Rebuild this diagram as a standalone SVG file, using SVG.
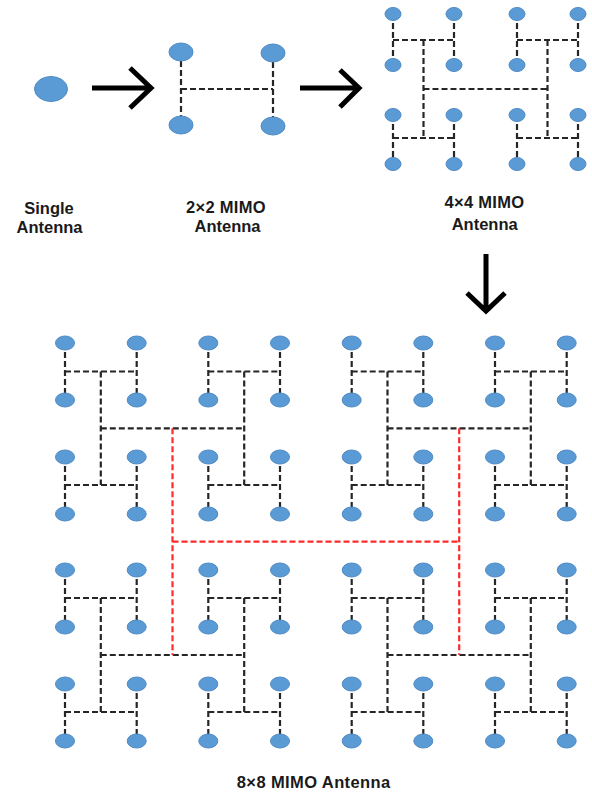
<svg xmlns="http://www.w3.org/2000/svg" width="592" height="794" viewBox="0 0 592 794">
  <style>
    .ant { fill: #5b9bd5; stroke: #4f8ac4; stroke-width: 1; }
    .feed { fill: none; stroke: #262626; stroke-width: 2.2; stroke-dasharray: 6 3; }
    .feed-red { fill: none; stroke: #ff2a2a; stroke-width: 2.2; stroke-dasharray: 6 3; }
    .step { fill: none; stroke: #000; stroke-width: 5; stroke-linejoin: miter; stroke-linecap: butt; }
    .lbl { font-family: "Liberation Sans", Arial, sans-serif; font-weight: bold; font-size: 16.5px; fill: #1a1a1a; text-anchor: middle; }
  </style>
  <rect width="592" height="794" fill="#fff"/>

  <!-- feed networks and step arrows -->
  <g id="connectors">
    <!-- progression arrows -->
    <path class="step" d="M92 88 H150 M130 68 L151 88 L130 108"/>
    <path class="step" d="M300 88 H358 M340 70 L359 88 L340 107"/>
    <path class="step" d="M486 254 V310 M467 293 L486 311 L505 293"/>

    <!-- 2x2 feed -->
    <path class="feed" d="M181 52 V125 M273 53 V126 M181 89 H273"/>

    <!-- 4x4 feed -->
    <path class="feed" d="M393 14 V65 M454 14 V65 M393 40 H454
                          M517 14 V65 M578 14 V65 M517 40 H578
                          M393 115 V164 M454 115 V164 M393 138 H454
                          M517 115 V164 M578 115 V164 M517 138 H578
                          M423.5 40 V138 M547.5 40 V138 M423.5 89 H547.5"/>

    <!-- 8x8 feed: first level H sections -->
    <path class="feed" d="
      M65 343 V400 M136.7 343 V400 M65 371.5 H136.7
      M208.3 343 V400 M280 343 V400 M208.3 371.5 H280
      M351.7 343 V400 M423.3 343 V400 M351.7 371.5 H423.3
      M495 343 V400 M566.7 343 V400 M495 371.5 H566.7
      M65 457 V514 M136.7 457 V514 M65 485 H136.7
      M208.3 457 V514 M280 457 V514 M208.3 485 H280
      M351.7 457 V514 M423.3 457 V514 M351.7 485 H423.3
      M495 457 V514 M566.7 457 V514 M495 485 H566.7
      M65 570 V627 M136.7 570 V627 M65 598 H136.7
      M208.3 570 V627 M280 570 V627 M208.3 598 H280
      M351.7 570 V627 M423.3 570 V627 M351.7 598 H423.3
      M495 570 V627 M566.7 570 V627 M495 598 H566.7
      M65 684 V741 M136.7 684 V741 M65 712 H136.7
      M208.3 684 V741 M280 684 V741 M208.3 712 H280
      M351.7 684 V741 M423.3 684 V741 M351.7 712 H423.3
      M495 684 V741 M566.7 684 V741 M495 712 H566.7"/>
    <!-- 8x8 feed: second level -->
    <path class="feed" d="
      M100.8 371.5 V485 M244.2 371.5 V485 M100.8 428.3 H244.2
      M387.5 371.5 V485 M530.8 371.5 V485 M387.5 428.3 H530.8
      M100.8 598 V712 M244.2 598 V712 M100.8 655 H244.2
      M387.5 598 V712 M530.8 598 V712 M387.5 655 H530.8"/>
    <!-- 8x8 feed: top level -->
    <path class="feed-red" d="M172.5 428.3 V655 M459.2 428.3 V655 M172.5 541.7 H459.2"/>
  </g>

  <!-- single antenna -->
  <g id="single-antenna">
    <ellipse class="ant" cx="51" cy="89" rx="16.5" ry="12.5" stroke-width="1.5"/>
  </g>

  <!-- 2x2 array -->
  <g id="mimo2-a1"><ellipse class="ant" cx="181" cy="52" rx="12" ry="9"/></g>
  <g id="mimo2-a2"><ellipse class="ant" cx="273" cy="53" rx="12" ry="9"/></g>
  <g id="mimo2-a3"><ellipse class="ant" cx="181" cy="125" rx="12" ry="9"/></g>
  <g id="mimo2-a4"><ellipse class="ant" cx="273" cy="126" rx="12" ry="9"/></g>

  <!-- 4x4 array -->
  <g id="mimo4-r1c1"><ellipse class="ant" cx="393" cy="14" rx="8" ry="6.5"/></g>
  <g id="mimo4-r1c2"><ellipse class="ant" cx="454" cy="14" rx="8" ry="6.5"/></g>
  <g id="mimo4-r1c3"><ellipse class="ant" cx="517" cy="14" rx="8" ry="6.5"/></g>
  <g id="mimo4-r1c4"><ellipse class="ant" cx="578" cy="14" rx="8" ry="6.5"/></g>
  <g id="mimo4-r2c1"><ellipse class="ant" cx="393" cy="65" rx="8" ry="6.5"/></g>
  <g id="mimo4-r2c2"><ellipse class="ant" cx="454" cy="65" rx="8" ry="6.5"/></g>
  <g id="mimo4-r2c3"><ellipse class="ant" cx="517" cy="65" rx="8" ry="6.5"/></g>
  <g id="mimo4-r2c4"><ellipse class="ant" cx="578" cy="65" rx="8" ry="6.5"/></g>
  <g id="mimo4-r3c1"><ellipse class="ant" cx="393" cy="115" rx="8" ry="6.5"/></g>
  <g id="mimo4-r3c2"><ellipse class="ant" cx="454" cy="115" rx="8" ry="6.5"/></g>
  <g id="mimo4-r3c3"><ellipse class="ant" cx="517" cy="115" rx="8" ry="6.5"/></g>
  <g id="mimo4-r3c4"><ellipse class="ant" cx="578" cy="115" rx="8" ry="6.5"/></g>
  <g id="mimo4-r4c1"><ellipse class="ant" cx="393" cy="164" rx="8" ry="6.5"/></g>
  <g id="mimo4-r4c2"><ellipse class="ant" cx="454" cy="164" rx="8" ry="6.5"/></g>
  <g id="mimo4-r4c3"><ellipse class="ant" cx="517" cy="164" rx="8" ry="6.5"/></g>
  <g id="mimo4-r4c4"><ellipse class="ant" cx="578" cy="164" rx="8" ry="6.5"/></g>

  <!-- 8x8 array -->
  <g id="mimo8-r1c1"><ellipse class="ant" cx="65" cy="343" rx="9.5" ry="7"/></g>
  <g id="mimo8-r1c2"><ellipse class="ant" cx="136.7" cy="343" rx="9.5" ry="7"/></g>
  <g id="mimo8-r1c3"><ellipse class="ant" cx="208.3" cy="343" rx="9.5" ry="7"/></g>
  <g id="mimo8-r1c4"><ellipse class="ant" cx="280" cy="343" rx="9.5" ry="7"/></g>
  <g id="mimo8-r1c5"><ellipse class="ant" cx="351.7" cy="343" rx="9.5" ry="7"/></g>
  <g id="mimo8-r1c6"><ellipse class="ant" cx="423.3" cy="343" rx="9.5" ry="7"/></g>
  <g id="mimo8-r1c7"><ellipse class="ant" cx="495" cy="343" rx="9.5" ry="7"/></g>
  <g id="mimo8-r1c8"><ellipse class="ant" cx="566.7" cy="343" rx="9.5" ry="7"/></g>

  <g id="mimo8-r2c1"><ellipse class="ant" cx="65" cy="400" rx="9.5" ry="7"/></g>
  <g id="mimo8-r2c2"><ellipse class="ant" cx="136.7" cy="400" rx="9.5" ry="7"/></g>
  <g id="mimo8-r2c3"><ellipse class="ant" cx="208.3" cy="400" rx="9.5" ry="7"/></g>
  <g id="mimo8-r2c4"><ellipse class="ant" cx="280" cy="400" rx="9.5" ry="7"/></g>
  <g id="mimo8-r2c5"><ellipse class="ant" cx="351.7" cy="400" rx="9.5" ry="7"/></g>
  <g id="mimo8-r2c6"><ellipse class="ant" cx="423.3" cy="400" rx="9.5" ry="7"/></g>
  <g id="mimo8-r2c7"><ellipse class="ant" cx="495" cy="400" rx="9.5" ry="7"/></g>
  <g id="mimo8-r2c8"><ellipse class="ant" cx="566.7" cy="400" rx="9.5" ry="7"/></g>

  <g id="mimo8-r3c1"><ellipse class="ant" cx="65" cy="457" rx="9.5" ry="7"/></g>
  <g id="mimo8-r3c2"><ellipse class="ant" cx="136.7" cy="457" rx="9.5" ry="7"/></g>
  <g id="mimo8-r3c3"><ellipse class="ant" cx="208.3" cy="457" rx="9.5" ry="7"/></g>
  <g id="mimo8-r3c4"><ellipse class="ant" cx="280" cy="457" rx="9.5" ry="7"/></g>
  <g id="mimo8-r3c5"><ellipse class="ant" cx="351.7" cy="457" rx="9.5" ry="7"/></g>
  <g id="mimo8-r3c6"><ellipse class="ant" cx="423.3" cy="457" rx="9.5" ry="7"/></g>
  <g id="mimo8-r3c7"><ellipse class="ant" cx="495" cy="457" rx="9.5" ry="7"/></g>
  <g id="mimo8-r3c8"><ellipse class="ant" cx="566.7" cy="457" rx="9.5" ry="7"/></g>

  <g id="mimo8-r4c1"><ellipse class="ant" cx="65" cy="514" rx="9.5" ry="7"/></g>
  <g id="mimo8-r4c2"><ellipse class="ant" cx="136.7" cy="514" rx="9.5" ry="7"/></g>
  <g id="mimo8-r4c3"><ellipse class="ant" cx="208.3" cy="514" rx="9.5" ry="7"/></g>
  <g id="mimo8-r4c4"><ellipse class="ant" cx="280" cy="514" rx="9.5" ry="7"/></g>
  <g id="mimo8-r4c5"><ellipse class="ant" cx="351.7" cy="514" rx="9.5" ry="7"/></g>
  <g id="mimo8-r4c6"><ellipse class="ant" cx="423.3" cy="514" rx="9.5" ry="7"/></g>
  <g id="mimo8-r4c7"><ellipse class="ant" cx="495" cy="514" rx="9.5" ry="7"/></g>
  <g id="mimo8-r4c8"><ellipse class="ant" cx="566.7" cy="514" rx="9.5" ry="7"/></g>

  <g id="mimo8-r5c1"><ellipse class="ant" cx="65" cy="570" rx="9.5" ry="7"/></g>
  <g id="mimo8-r5c2"><ellipse class="ant" cx="136.7" cy="570" rx="9.5" ry="7"/></g>
  <g id="mimo8-r5c3"><ellipse class="ant" cx="208.3" cy="570" rx="9.5" ry="7"/></g>
  <g id="mimo8-r5c4"><ellipse class="ant" cx="280" cy="570" rx="9.5" ry="7"/></g>
  <g id="mimo8-r5c5"><ellipse class="ant" cx="351.7" cy="570" rx="9.5" ry="7"/></g>
  <g id="mimo8-r5c6"><ellipse class="ant" cx="423.3" cy="570" rx="9.5" ry="7"/></g>
  <g id="mimo8-r5c7"><ellipse class="ant" cx="495" cy="570" rx="9.5" ry="7"/></g>
  <g id="mimo8-r5c8"><ellipse class="ant" cx="566.7" cy="570" rx="9.5" ry="7"/></g>

  <g id="mimo8-r6c1"><ellipse class="ant" cx="65" cy="627" rx="9.5" ry="7"/></g>
  <g id="mimo8-r6c2"><ellipse class="ant" cx="136.7" cy="627" rx="9.5" ry="7"/></g>
  <g id="mimo8-r6c3"><ellipse class="ant" cx="208.3" cy="627" rx="9.5" ry="7"/></g>
  <g id="mimo8-r6c4"><ellipse class="ant" cx="280" cy="627" rx="9.5" ry="7"/></g>
  <g id="mimo8-r6c5"><ellipse class="ant" cx="351.7" cy="627" rx="9.5" ry="7"/></g>
  <g id="mimo8-r6c6"><ellipse class="ant" cx="423.3" cy="627" rx="9.5" ry="7"/></g>
  <g id="mimo8-r6c7"><ellipse class="ant" cx="495" cy="627" rx="9.5" ry="7"/></g>
  <g id="mimo8-r6c8"><ellipse class="ant" cx="566.7" cy="627" rx="9.5" ry="7"/></g>

  <g id="mimo8-r7c1"><ellipse class="ant" cx="65" cy="684" rx="9.5" ry="7"/></g>
  <g id="mimo8-r7c2"><ellipse class="ant" cx="136.7" cy="684" rx="9.5" ry="7"/></g>
  <g id="mimo8-r7c3"><ellipse class="ant" cx="208.3" cy="684" rx="9.5" ry="7"/></g>
  <g id="mimo8-r7c4"><ellipse class="ant" cx="280" cy="684" rx="9.5" ry="7"/></g>
  <g id="mimo8-r7c5"><ellipse class="ant" cx="351.7" cy="684" rx="9.5" ry="7"/></g>
  <g id="mimo8-r7c6"><ellipse class="ant" cx="423.3" cy="684" rx="9.5" ry="7"/></g>
  <g id="mimo8-r7c7"><ellipse class="ant" cx="495" cy="684" rx="9.5" ry="7"/></g>
  <g id="mimo8-r7c8"><ellipse class="ant" cx="566.7" cy="684" rx="9.5" ry="7"/></g>

  <g id="mimo8-r8c1"><ellipse class="ant" cx="65" cy="741" rx="9.5" ry="7"/></g>
  <g id="mimo8-r8c2"><ellipse class="ant" cx="136.7" cy="741" rx="9.5" ry="7"/></g>
  <g id="mimo8-r8c3"><ellipse class="ant" cx="208.3" cy="741" rx="9.5" ry="7"/></g>
  <g id="mimo8-r8c4"><ellipse class="ant" cx="280" cy="741" rx="9.5" ry="7"/></g>
  <g id="mimo8-r8c5"><ellipse class="ant" cx="351.7" cy="741" rx="9.5" ry="7"/></g>
  <g id="mimo8-r8c6"><ellipse class="ant" cx="423.3" cy="741" rx="9.5" ry="7"/></g>
  <g id="mimo8-r8c7"><ellipse class="ant" cx="495" cy="741" rx="9.5" ry="7"/></g>
  <g id="mimo8-r8c8"><ellipse class="ant" cx="566.7" cy="741" rx="9.5" ry="7"/></g>

  <!-- captions -->
  <g id="label-single">
    <text class="lbl" x="49" y="214">Single</text>
    <text class="lbl" x="49.5" y="233">Antenna</text>
  </g>
  <g id="label-mimo2">
    <text class="lbl" x="226" y="213" letter-spacing="0.3">2×2 MIMO</text>
    <text class="lbl" x="227.5" y="232">Antenna</text>
  </g>
  <g id="label-mimo4">
    <text class="lbl" x="484.5" y="208" letter-spacing="0.3">4×4 MIMO</text>
    <text class="lbl" x="484.7" y="230">Antenna</text>
  </g>
  <g id="label-mimo8">
    <text class="lbl" x="313.7" y="788" letter-spacing="0.4">8×8 MIMO Antenna</text>
  </g>
</svg>
